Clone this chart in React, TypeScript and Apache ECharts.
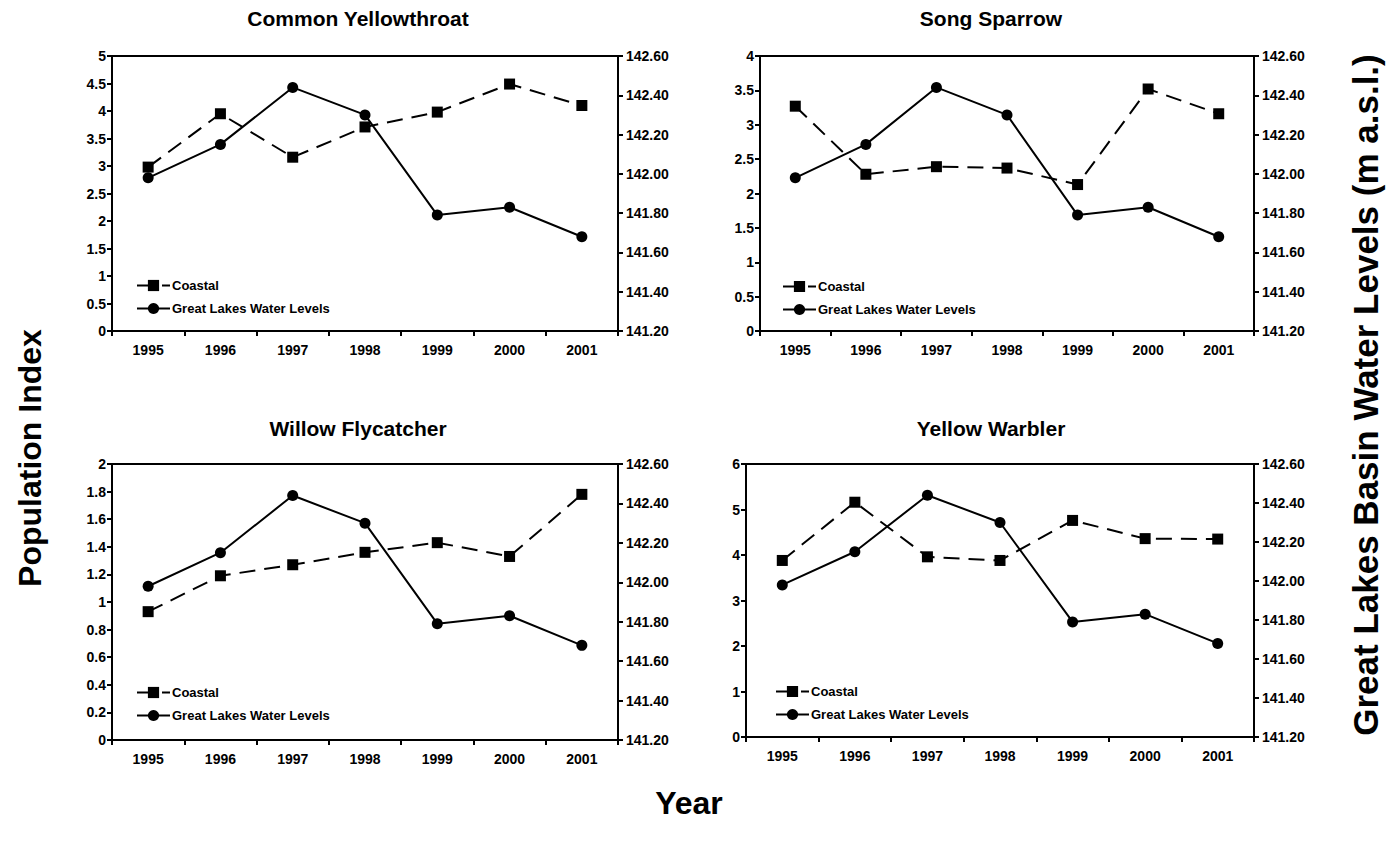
import React, { useEffect, useRef } from "react";
import * as echarts from "echarts";

const years = ["1995", "1996", "1997", "1998", "1999", "2000", "2001"];
const waterLevels = [141.98, 142.15, 142.44, 142.3, 141.79, 141.83, 141.68];
const yellowthroat = [2.98, 3.95, 3.16, 3.71, 3.98, 4.49, 4.1];
const songSparrow = [3.27, 2.28, 2.39, 2.37, 2.13, 3.52, 3.16];
const willowFlycatcher = [0.93, 1.19, 1.27, 1.36, 1.43, 1.33, 1.78];
const yellowWarbler = [3.88, 5.16, 3.96, 3.88, 4.76, 4.36, 4.35];
const titles = ["Common Yellowthroat", "Song Sparrow", "Willow Flycatcher", "Yellow Warbler"];
const leftMax = [5, 4, 2, 6];
const leftStep = [0.5, 0.5, 0.2, 1];
const rightMin = 141.2;
const rightMax = 142.6;
const rightStep = 0.2;

const FONT = "'Liberation Sans', Arial, sans-serif";

export default function App() {
  const ref = useRef<HTMLDivElement>(null);
  useEffect(() => {
    if (!ref.current) return;
    const chart = echarts.init(ref.current, undefined, { renderer: "svg" });
    const coastal = [yellowthroat, songSparrow, willowFlycatcher, yellowWarbler];
    const grids = [
      { left: 112, top: 56, width: 506, height: 275 },
      { left: 760, top: 56, width: 494, height: 275 },
      { left: 112, top: 464, width: 506, height: 276 },
      { left: 746, top: 464, width: 508, height: 273 },
    ];
    const titlePos = [
      [358, 18],
      [991, 18],
      [358, 428],
      [991, 428],
    ];
    const legendPos = [
      [136, 279],
      [782, 280],
      [136, 686],
      [775, 685],
    ];
    const axisLine = { show: true, onZero: false, lineStyle: { color: "#000", width: 2 } };
    const axisTick = { show: true, length: 5, lineStyle: { color: "#000", width: 2 } };
    const label = { color: "#000", fontWeight: "bold" as const, fontSize: 14, fontFamily: FONT };

    const xAxis: any[] = [];
    const yAxis: any[] = [];
    const series: any[] = [];
    const legend: any[] = [];
    grids.forEach((g, i) => {
      xAxis.push({
        type: "category",
        gridIndex: i,
        data: years,
        boundaryGap: true,
        axisLine,
        axisTick: { ...axisTick, alignWithLabel: false, interval: 0 },
        axisLabel: { ...label, margin: 12, interval: 0 },
        splitLine: { show: false },
      });
      yAxis.push({
        type: "value",
        gridIndex: i,
        position: "left",
        min: 0,
        max: leftMax[i],
        interval: leftStep[i],
        axisLine,
        axisTick,
        axisLabel: { ...label, margin: 6 },
        splitLine: { show: false },
      });
      yAxis.push({
        type: "value",
        gridIndex: i,
        position: "right",
        min: rightMin,
        max: rightMax,
        interval: rightStep,
        axisLine,
        axisTick,
        axisLabel: { ...label, margin: 8, formatter: (v: number) => v.toFixed(2) },
        splitLine: { show: false },
      });
      series.push({
        name: "Coastal",
        type: "line",
        xAxisIndex: i,
        yAxisIndex: 2 * i,
        data: coastal[i],
        symbol: "rect",
        symbolSize: 11,
        itemStyle: { color: "#000" },
        lineStyle: { color: "#000", width: 2, type: [16, 9] },
        z: 3,
      });
      series.push({
        name: "Great Lakes Water Levels",
        type: "line",
        xAxisIndex: i,
        yAxisIndex: 2 * i + 1,
        data: waterLevels,
        symbol: "circle",
        symbolSize: 11,
        itemStyle: { color: "#000" },
        lineStyle: { color: "#000", width: 2, type: "solid" },
        z: 3,
      });
      legend.push({
        orient: "vertical",
        left: legendPos[i][0],
        top: legendPos[i][1],
        itemWidth: 33,
        itemHeight: 14,
        itemGap: 10,
        padding: 0,
        selectedMode: false,
        textStyle: { color: "#000", fontWeight: "bold", fontSize: 13, fontFamily: FONT, padding: [0, 0, 0, -3] },
        data: ["Coastal", "Great Lakes Water Levels"],
      });
    });

    const graphic: any[] = titles.map((t, i) => ({
      type: "text",
      x: titlePos[i][0],
      y: titlePos[i][1],
      style: {
        text: t,
        fill: "#000",
        font: `bold 21px ${FONT}`,
        textAlign: "center",
        textVerticalAlign: "middle",
      },
    }));
    graphic.push({
      type: "text",
      x: 30,
      y: 458,
      rotation: Math.PI / 2,
      style: {
        text: "Population Index",
        fill: "#000",
        font: `bold 32px ${FONT}`,
        textAlign: "center",
        textVerticalAlign: "middle",
      },
    });
    graphic.push({
      type: "text",
      x: 1365,
      y: 395,
      rotation: Math.PI / 2,
      style: {
        text: "Great Lakes Basin Water Levels (m a.s.l.)",
        fill: "#000",
        font: `bold 35px ${FONT}`,
        textAlign: "center",
        textVerticalAlign: "middle",
      },
    });
    graphic.push({
      type: "text",
      x: 689,
      y: 803,
      style: {
        text: "Year",
        fill: "#000",
        font: `bold 32px ${FONT}`,
        textAlign: "center",
        textVerticalAlign: "middle",
      },
    });

    chart.setOption({
      animation: false,
      backgroundColor: "#fff",
      grid: grids.map((g) => ({ ...g, show: true, borderColor: "#000", borderWidth: 2, backgroundColor: "transparent", containLabel: false })),
      xAxis,
      yAxis,
      series,
      legend,
      graphic,
    });
    return () => chart.dispose();
  }, []);
  return <div ref={ref} style={{ position: "absolute", left: 0, top: 0, width: 1395, height: 843 }} />;
}
